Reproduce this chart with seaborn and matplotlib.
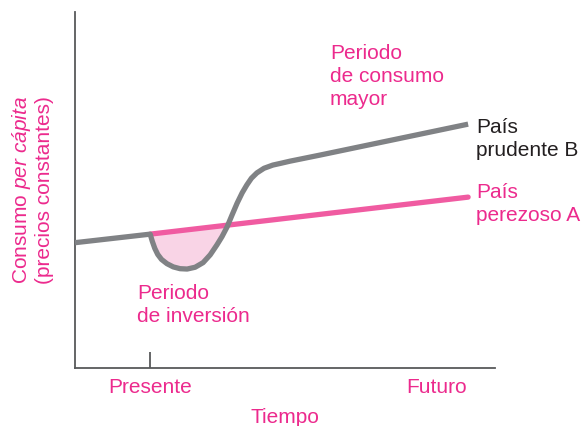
import matplotlib
matplotlib.use("Agg")
import matplotlib.pyplot as plt
import seaborn as sns
import numpy as np
import pandas as pd

# ---- data (arbitrary units) ----
lazy_x = [0.0, 17.9, 93.6]
lazy_y = [35.2, 37.6, 48.0]

prudent_x = [0.0, 17.9, 18.4, 19.0, 19.7, 20.6, 21.9, 23.4, 25.0, 26.7, 28.6, 30.5, 32.2,
             33.8, 35.0, 36.2, 37.4, 38.6, 39.8, 40.9, 42.0, 43.3, 45.0, 47.1,
             49.0, 51.2, 58.3, 93.6]
prudent_y = [35.2, 37.6, 35.6, 33.6, 31.9, 30.5, 29.3, 28.4, 27.9, 27.8, 28.3, 29.6, 31.8,
             34.6, 36.9, 39.6, 43.0, 46.3, 49.2, 51.4, 53.3, 54.8, 56.1, 57.0,
             57.5, 58.1, 59.8, 68.5]

tick_pos = [17.9, 86.2]
tick_labels = ["Presente", "Futuro"]

PINK_TXT = "#ec2a8d"
PINK_LINE = "#f05ba1"
PINK_FILL = "#f9d4e6"
GRAY = "#808285"
DARK = "#231f20"
FS = 15

sns.set_theme(style="white")
plt.rcParams["font.family"] = ["Liberation Sans", "DejaVu Sans"]
plt.rcParams["mathtext.fontset"] = "custom"
plt.rcParams["mathtext.rm"] = "Liberation Sans"
plt.rcParams["mathtext.it"] = "Liberation Sans:italic"

fig = plt.figure(figsize=(5.85, 4.26), dpi=100)
ax = fig.add_axes([75/585, 58/426, 420/585, 356/426])

lazy = pd.DataFrame({"x": lazy_x, "y": lazy_y})
prud = pd.DataFrame({"x": prudent_x, "y": prudent_y})

# shaded investment period: between lazy line and prudent curve where prudent is below
px = np.array(prudent_x)
py = np.array(prudent_y)
ly = np.interp(px, lazy_x, lazy_y)
mask = (px >= 17.9) & (px <= 36.2)
ax.fill_between(px[mask], py[mask], ly[mask], color=PINK_FILL, lw=0, zorder=1)

lazy_after = lazy[lazy["x"] >= 17.9]
sns.lineplot(data=lazy_after, x="x", y="y", ax=ax, color=PINK_LINE, lw=3.8,
             zorder=2, sort=False, estimator=None)
sns.lineplot(data=prud, x="x", y="y", ax=ax, color=GRAY, lw=3.8, zorder=3,
             sort=False, estimator=None, solid_capstyle="butt")

ax.set_xlim(0, 100)
ax.set_ylim(0, 100)

for s in ["top", "right"]:
    ax.spines[s].set_visible(False)
for s in ["left", "bottom"]:
    ax.spines[s].set_color("#58595b")
    ax.spines[s].set_linewidth(1.3)

ax.set_yticks([])
ax.set_xticks(tick_pos)
ax.set_xticklabels(tick_labels, color=PINK_TXT, fontsize=FS)
ax.tick_params(axis="x", direction="in", length=11.5, width=1.3,
               color="#58595b", pad=7, bottom=True)
ax.xaxis.get_major_ticks()[1].tick1line.set_visible(False)

ax.set_xlabel("Tiempo", color=PINK_TXT, fontsize=FS, labelpad=8)
ax.set_ylabel("Consumo $\\mathit{per\\ cápita}$\n(precios constantes)",
              color=PINK_TXT, fontsize=FS, labelpad=15, linespacing=1.15)

kw = dict(fontsize=FS, va="top", ha="left", linespacing=1.27)
ax.text(60.7, 91.0, "Periodo\nde consumo\nmayor", color=PINK_TXT, **kw)
ax.text(95.5, 70.3, "País\nprudente B", color=DARK, clip_on=False, **kw)
ax.text(95.5, 52.0, "País\nperezoso A", color=PINK_TXT, clip_on=False, **kw)
ax.text(14.8, 23.5, "Periodo\nde inversión", color=PINK_TXT, **kw)

fig.savefig("out.png", dpi=100)
